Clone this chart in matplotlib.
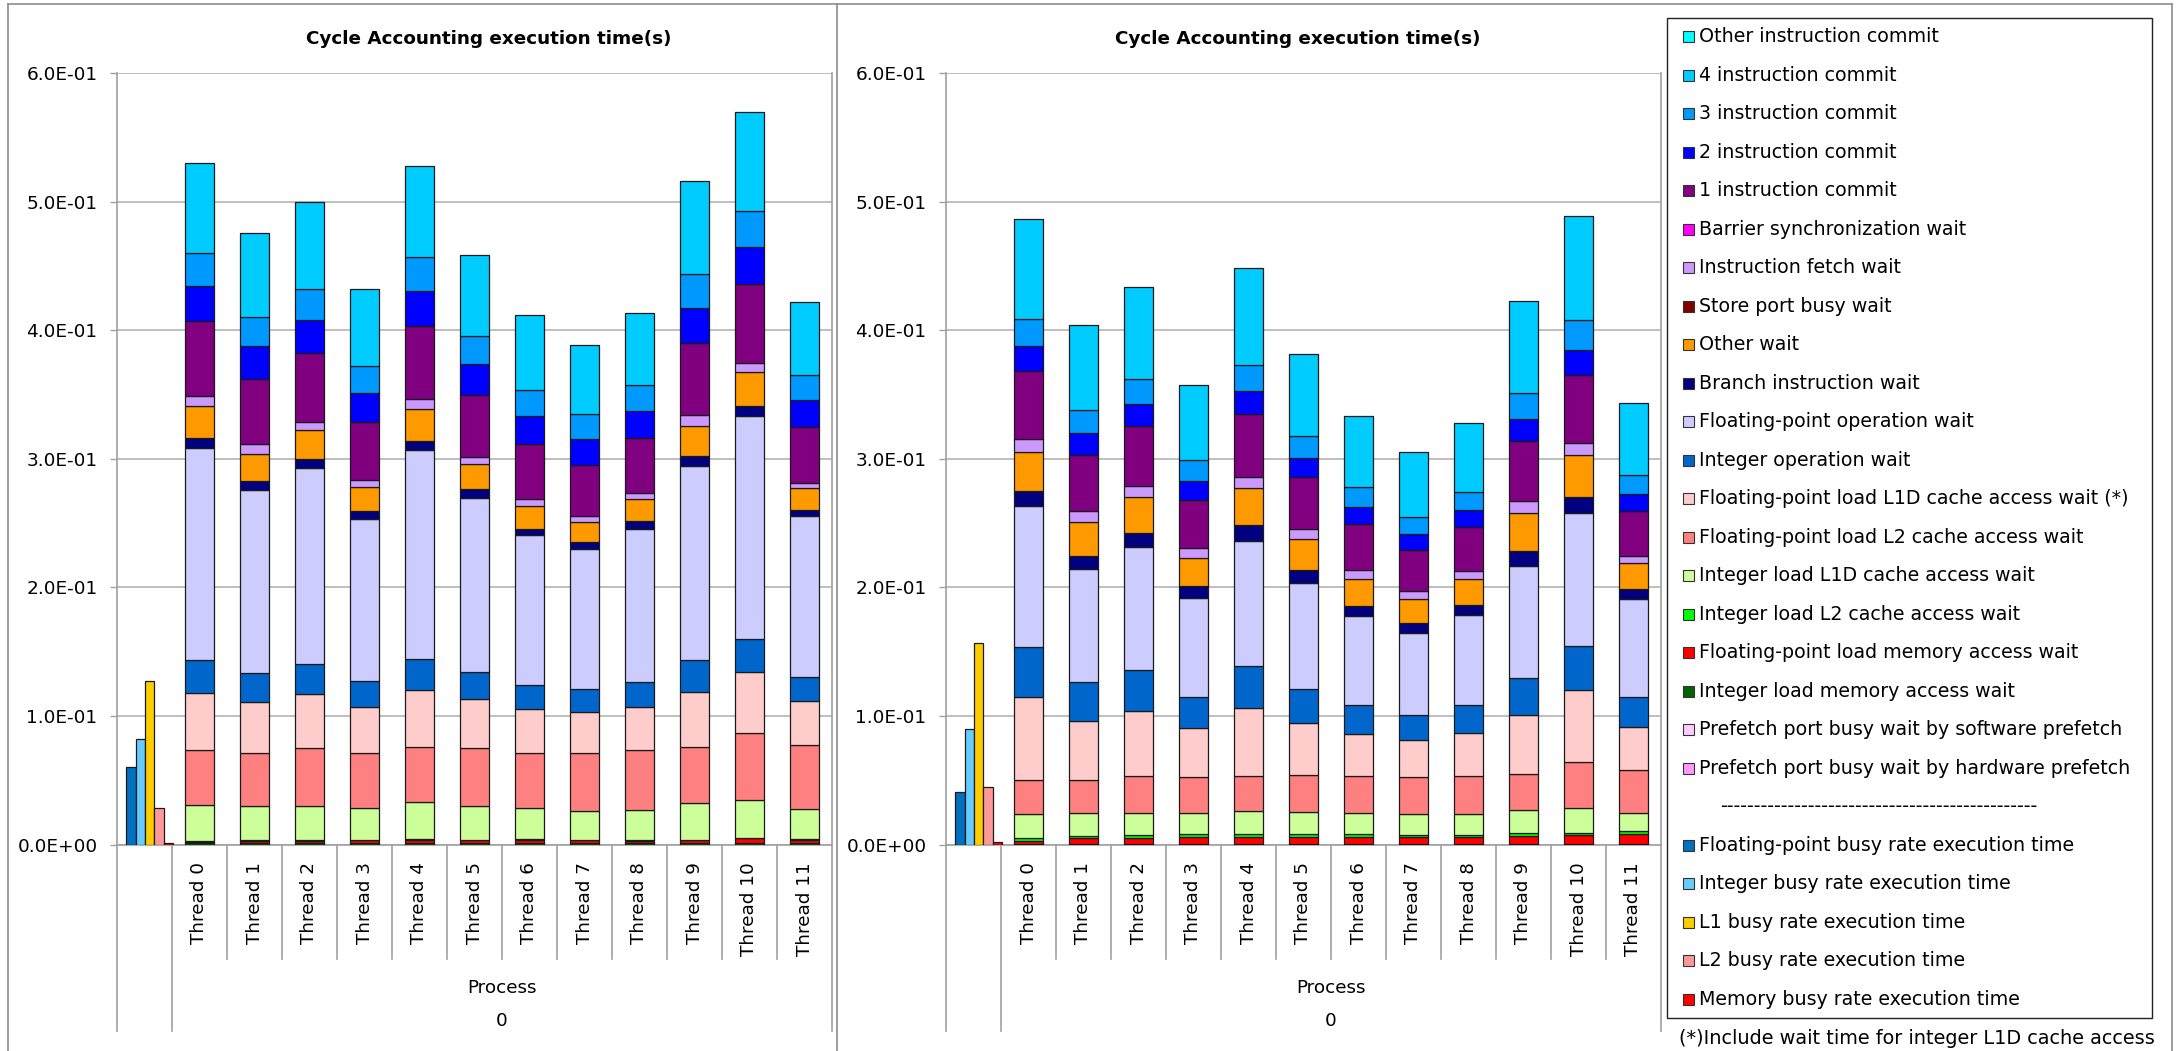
import numpy as np
import matplotlib.pyplot as plt
from matplotlib.patches import Rectangle
from matplotlib.lines import Line2D

W, H = 2177, 1051

title = 'Cycle Accounting execution time(s)'
threads = ['Thread %d' % i for i in range(12)]
yticks = [0.0, 0.1, 0.2, 0.3, 0.4, 0.5, 0.6]
group_label = 'Process'
group_value = '0'
footnote = '(*)Include wait time for integer L1D cache access'

# stacked series, bottom -> top
stack_names = ['Prefetch port busy wait by hardware prefetch',
               'Prefetch port busy wait by software prefetch',
               'Integer load memory access wait',
               'Floating-point load memory access wait',
               'Integer load L2 cache access wait',
               'Integer load L1D cache access wait',
               'Floating-point load L2 cache access wait',
               'Floating-point load L1D cache access wait (*)',
               'Integer operation wait',
               'Floating-point operation wait',
               'Branch instruction wait',
               'Other wait',
               'Store port busy wait',
               'Instruction fetch wait',
               'Barrier synchronization wait',
               '1 instruction commit',
               '2 instruction commit',
               '3 instruction commit',
               '4 instruction commit',
               'Other instruction commit']
stack_colors = ['#FF99FF', '#FFCCFF', '#006400', '#FF0000', '#00FF00', '#CCFF99',
                '#FF8080', '#FFCCCC', '#0066CC', '#CCCCFF', '#000080', '#FF9900',
                '#800000', '#CC99FF', '#FF00FF', '#800080', '#0000FF', '#0099FF',
                '#00CCFF', '#00FFFF']

busy_names = ['Floating-point busy rate execution time',
              'Integer busy rate execution time',
              'L1 busy rate execution time',
              'L2 busy rate execution time',
              'Memory busy rate execution time']
busy_colors = ['#0070C0', '#66CCFF', '#FFCC00', '#FF9999', '#FF0000']

zero12 = [0.0] * 12

# ---- left chart ----
a_int_mem = [0.0010, 0.0012, 0.0012, 0.0012, 0.0013, 0.0012, 0.0013, 0.0012, 0.0012, 0.0012, 0.0014, 0.0012]
a_fp_mem = [0.0012, 0.0018, 0.0017, 0.0020, 0.0022, 0.0020, 0.0025, 0.0020, 0.0019, 0.0021, 0.0036, 0.0023]
a_int_l2 = [0.0004] * 12
a_int_l1d = [0.0282, 0.0266, 0.0267, 0.0246, 0.0288, 0.0260, 0.0243, 0.0225, 0.0236, 0.0283, 0.0294, 0.0239]
a_fp_l2 = [0.0429, 0.0410, 0.0454, 0.0433, 0.0430, 0.0451, 0.0427, 0.0451, 0.0462, 0.0437, 0.0517, 0.0499]
a_fp_l1d = [0.0441, 0.0397, 0.0416, 0.0353, 0.0441, 0.0385, 0.0344, 0.0316, 0.0336, 0.0430, 0.0475, 0.0338]
a_int_op = [0.0255, 0.0226, 0.0233, 0.0200, 0.0246, 0.0211, 0.0187, 0.0178, 0.0191, 0.0250, 0.0260, 0.0190]
a_fp_op = [0.1653, 0.1427, 0.1527, 0.1267, 0.1624, 0.1353, 0.1162, 0.1095, 0.1197, 0.1506, 0.1731, 0.1246]
a_branch = [0.0078, 0.0070, 0.0070, 0.0055, 0.0072, 0.0066, 0.0052, 0.0049, 0.0056, 0.0076, 0.0080, 0.0052]
a_other_wait = [0.0247, 0.0210, 0.0220, 0.0189, 0.0247, 0.0195, 0.0177, 0.0159, 0.0173, 0.0239, 0.0260, 0.0170]
a_ifetch = [0.0080, 0.0077, 0.0068, 0.0057, 0.0076, 0.0059, 0.0056, 0.0049, 0.0049, 0.0080, 0.0077, 0.0041]
a_commit1 = [0.0580, 0.0506, 0.0537, 0.0449, 0.0573, 0.0482, 0.0426, 0.0395, 0.0423, 0.0559, 0.0610, 0.0431]
a_commit2 = [0.0270, 0.0254, 0.0255, 0.0229, 0.0270, 0.0236, 0.0215, 0.0201, 0.0212, 0.0277, 0.0288, 0.0215]
a_commit3 = [0.0256, 0.0229, 0.0244, 0.0210, 0.0260, 0.0222, 0.0205, 0.0191, 0.0201, 0.0264, 0.0281, 0.0194]
a_commit4 = [0.0704, 0.0646, 0.0676, 0.0600, 0.0712, 0.0628, 0.0583, 0.0541, 0.0562, 0.0725, 0.0773, 0.0562]
a_busy = [0.0606, 0.0822, 0.1268, 0.0287, 0.0008]

# ---- right chart ----
b_int_mem = [0.0006] * 12
b_fp_mem = [0.0024, 0.0042, 0.0041, 0.0054, 0.0050, 0.0054, 0.0051, 0.0051, 0.0050, 0.0060, 0.0067, 0.0077]
b_int_l2 = [0.0020, 0.0018, 0.0026, 0.0019, 0.0024, 0.0023, 0.0023, 0.0018, 0.0020, 0.0024, 0.0020, 0.0020]
b_int_l1d = [0.0188, 0.0177, 0.0170, 0.0164, 0.0179, 0.0166, 0.0166, 0.0161, 0.0160, 0.0182, 0.0189, 0.0143]
b_fp_l2 = [0.0264, 0.0257, 0.0290, 0.0280, 0.0273, 0.0293, 0.0289, 0.0292, 0.0299, 0.0279, 0.0356, 0.0332]
b_fp_l1d = [0.0644, 0.0464, 0.0509, 0.0382, 0.0531, 0.0405, 0.0325, 0.0282, 0.0329, 0.0459, 0.0565, 0.0339]
b_int_op = [0.0390, 0.0296, 0.0317, 0.0246, 0.0326, 0.0266, 0.0223, 0.0200, 0.0219, 0.0286, 0.0342, 0.0233]
b_fp_op = [0.1100, 0.0883, 0.0956, 0.0766, 0.0973, 0.0824, 0.0691, 0.0635, 0.0704, 0.0870, 0.1030, 0.0757]
b_branch = [0.0117, 0.0104, 0.0109, 0.0091, 0.0120, 0.0096, 0.0083, 0.0076, 0.0077, 0.0116, 0.0129, 0.0080]
b_other_wait = [0.0301, 0.0259, 0.0277, 0.0223, 0.0292, 0.0242, 0.0209, 0.0186, 0.0199, 0.0293, 0.0323, 0.0203]
b_ifetch = [0.0102, 0.0089, 0.0086, 0.0076, 0.0086, 0.0080, 0.0070, 0.0066, 0.0063, 0.0093, 0.0099, 0.0056]
b_commit1 = [0.0524, 0.0436, 0.0467, 0.0376, 0.0489, 0.0405, 0.0356, 0.0319, 0.0342, 0.0472, 0.0528, 0.0345]
b_commit2 = [0.0197, 0.0166, 0.0174, 0.0143, 0.0176, 0.0147, 0.0129, 0.0120, 0.0130, 0.0166, 0.0193, 0.0133]
b_commit3 = [0.0210, 0.0182, 0.0195, 0.0161, 0.0206, 0.0173, 0.0160, 0.0133, 0.0140, 0.0206, 0.0229, 0.0146]
b_commit4 = [0.0774, 0.0659, 0.0714, 0.0584, 0.0754, 0.0634, 0.0548, 0.0508, 0.0541, 0.0717, 0.0814, 0.0562]
b_busy = [0.0406, 0.0897, 0.1570, 0.0445, 0.0020]

a_stack = [zero12, zero12, a_int_mem, a_fp_mem, a_int_l2, a_int_l1d, a_fp_l2, a_fp_l1d,
           a_int_op, a_fp_op, a_branch, a_other_wait, zero12, a_ifetch, zero12,
           a_commit1, a_commit2, a_commit3, a_commit4, zero12]
b_stack = [zero12, zero12, b_int_mem, b_fp_mem, b_int_l2, b_int_l1d, b_fp_l2, b_fp_l1d,
           b_int_op, b_fp_op, b_branch, b_other_wait, zero12, b_ifetch, zero12,
           b_commit1, b_commit2, b_commit3, b_commit4, zero12]

plt.rcParams['font.family'] = ['DejaVu Sans']
fig = plt.figure(figsize=(W / 100, H / 100), dpi=100)

GRID = '#b4b4b4'
AXC = '#a0a0a0'
EDGE = '#1a1a1a'
Y_TOP, Y_BOT = 73, 844.5


def fx(x):
    return x / W


def fy(y):
    return 1 - y / H


def ay(ypx):
    # pixel row -> axes fraction (below the axis is negative)
    return -(ypx - Y_BOT) / (Y_BOT - Y_TOP)


def panel(left, right, stack, busy, title_x):
    ax = fig.add_axes([fx(left), fy(Y_BOT), fx(right) - fx(left), (Y_BOT - Y_TOP) / H])
    x = np.arange(1, 13)
    bottom = np.zeros(12)
    for vals, c in zip(stack, stack_colors):
        v = np.array(vals)
        if v.any():
            ax.bar(x, v, 0.54, bottom=bottom, color=c, edgecolor=EDGE, linewidth=0.9, zorder=3)
        bottom += v
    for i, (v, c) in enumerate(zip(busy, busy_colors)):
        ax.bar(-0.245 + 0.17 * i, v, 0.17, color=c, edgecolor=EDGE, linewidth=0.9, zorder=3)

    ax.set_xlim(-0.5, 12.5)
    ax.set_ylim(0, 0.6)
    ax.set_yticks(yticks)
    ax.set_yticklabels(['%.1E' % v for v in yticks])
    ax.tick_params(axis='y', length=5, width=1, color=AXC, labelsize=13.3, pad=9)
    ax.set_xticks([])
    ax.grid(axis='y', color=GRID, linewidth=1.2)
    ax.set_axisbelow(True)
    for s in ['left', 'bottom', 'right']:
        ax.spines[s].set_color(AXC)
        ax.spines[s].set_linewidth(1.2)
    ax.spines['top'].set_visible(False)

    tr = ax.get_xaxis_transform()
    for i, t in enumerate(threads):
        ax.text(i + 1, ay(862), t, rotation=90, ha='center', va='top',
                fontsize=13.2, transform=tr)
    for xb in np.arange(1.5, 12.5, 1.0):
        ax.plot([xb, xb], [0, ay(959)], transform=tr, clip_on=False, color=AXC, lw=1.2)
    for xb in [-0.5, 0.5, 12.5]:
        ax.plot([xb, xb], [0, ay(1031)], transform=tr, clip_on=False, color=AXC, lw=1.2)
    ax.text(6.5, ay(988), group_label, ha='center', va='center', fontsize=13.2, transform=tr)
    ax.text(6.5, ay(1021), group_value, ha='center', va='center', fontsize=13.2, transform=tr)

    fig.text(fx(title_x), fy(39), title, ha='center', va='center',
             fontsize=13.2, fontweight='bold')
    return ax


panel(117, 832, a_stack, a_busy, 489)
panel(946, 1661, b_stack, b_busy, 1298)

# outer frames
FR = '#8c8c8c'
for (x0, y0, x1, y1) in [(8, 4, 2172, 4), (8, 4, 8, 1060), (837, 4, 837, 1060), (2172, 4, 2172, 1060)]:
    fig.add_artist(Line2D([fx(x0), fx(x1)], [fy(y0), fy(y1)], color=FR, lw=1.2))

# legend box
fig.add_artist(Rectangle((fx(1667), fy(1017.5)), fx(2152) - fx(1667), (1017.5 - 17.5) / H,
                         fill=False, edgecolor='#222222', lw=1.0))
legend_rows = list(zip(stack_names[::-1], stack_colors[::-1])) + [(None, None)] + \
    list(zip(busy_names, busy_colors))
for i, (name, c) in enumerate(legend_rows):
    yc = 36.7 + i * 38.5
    if name is None:
        fig.text(fx(1720), fy(yc), '-' * 47, ha='left', va='center', fontsize=13.7)
        continue
    fig.add_artist(Rectangle((fx(1683), fy(yc + 5.7)), 11.3 / W, 11.3 / H,
                             facecolor=c, edgecolor='#333333', lw=0.8))
    fig.text(fx(1699), fy(yc), name, ha='left', va='center', fontsize=13.7)

fig.text(fx(1679), fy(1038), footnote, ha='left', va='center', fontsize=13.9)

fig.savefig('out.png', dpi=100)
